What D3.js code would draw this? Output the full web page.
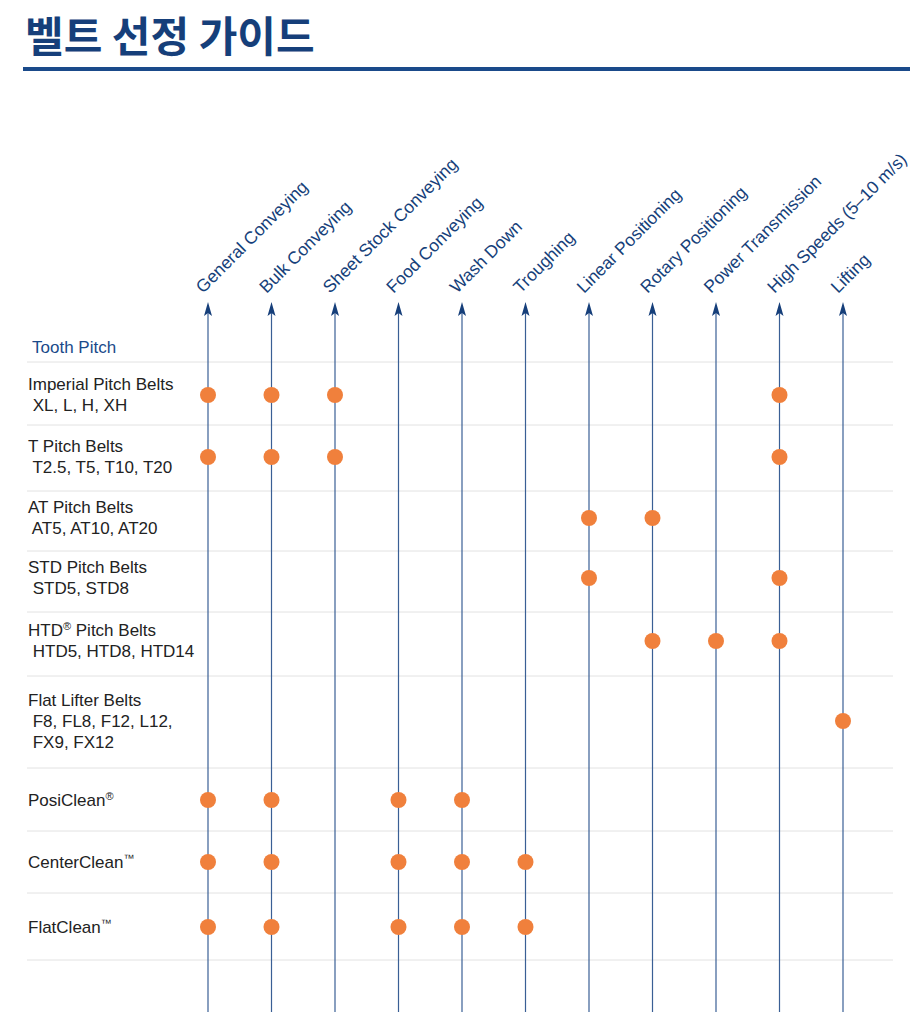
<!DOCTYPE html><html><head><meta charset="utf-8"><script src="https://cdn.jsdelivr.net/npm/d3@7"></script>
<style>body{margin:0;background:#fff}</style></head><body><svg id="c" width="919" height="1024"></svg><script>
const applications=["General Conveying","Bulk Conveying","Sheet Stock Conveying","Food Conveying","Wash Down","Troughing","Linear Positioning","Rotary Positioning","Power Transmission","High Speeds (5–10 m/s)","Lifting"];
const belts=[[["Imperial Pitch Belts",""]," XL, L, H, XH"],[["T Pitch Belts",""]," T2.5, T5, T10, T20"],[["AT Pitch Belts",""]," AT5, AT10, AT20"],[["STD Pitch Belts",""]," STD5, STD8"],[["HTD","®"," Pitch Belts"]," HTD5, HTD8, HTD14"],[["Flat Lifter Belts",""]," F8, FL8, F12, L12,"," FX9, FX12"],[["PosiClean","®"]],[["CenterClean","™"]],[["FlatClean","™"]]];
const marks=[[0,1,2,9],[0,1,2,9],[6,7],[6,9],[7,8,9],[10],[0,1,3,4],[0,1,3,4,5],[0,1,3,4,5]];
const rowDots=[395,457,518,578,641,721,800,862,927];
const rowSep=[362,425,491,551,612,676,768,831,893,960];
const svg=d3.select("#c");
const blue="#163f7a";
const F="Liberation Sans, Arial";
svg.append("text").attr("x",25).attr("y",52).attr("font-family","Noto Sans CJK KR").attr("font-weight",700).attr("font-size",42).attr("fill",blue).text("벨트 선정 가이드");
svg.append("rect").attr("x",23).attr("y",67).attr("width",887).attr("height",4).attr("fill","#1a4a8a");
const x=d3.scalePoint().domain(applications).range([208,843]);
svg.selectAll(".sep").data(rowSep).join("line").attr("x1",27).attr("x2",893).attr("y1",d=>d).attr("y2",d=>d).attr("stroke","#e2e2e2");
svg.selectAll(".ax").data(applications).join("line").attr("x1",d=>x(d)).attr("x2",d=>x(d)).attr("y1",1012).attr("y2",310).attr("stroke","#3a5f95").attr("stroke-width",1.2);
svg.selectAll(".ah").data(applications).join("path").attr("transform",d=>`translate(${x(d)},302)`).attr("d","M0,0L4,14L0,11L-4,14Z").attr("fill",blue);
svg.selectAll(".al").data(applications).join("text").attr("transform",d=>`translate(${x(d)-5},294) rotate(-45)`).attr("font-family",F).attr("font-size",17.5).attr("fill",blue).text(d=>d);
svg.append("text").attr("x",32).attr("y",353).attr("font-family",F).attr("font-size",17).attr("fill","#1a4a8a").text("Tooth Pitch");
belts.forEach((b,i)=>{
  const n=b.length;
  b.forEach((s,j)=>{
    const y=rowDots[i]+5.5-(n-1)*10.5+j*21;
    const t=svg.append("text").attr("x",28).attr("y",y).attr("font-family",F).attr("font-size",17).attr("fill","#222").attr("xml:space","preserve");
    if(Array.isArray(s)){s.forEach((p,k)=>{const ts=t.append("tspan").text(p);if(k==1){ts.attr("font-size",11).attr("dy",-6);}if(k==2)ts.attr("dy",6);});}
    else t.text(s);
  });
  svg.selectAll(null).data(marks[i]).join("circle").attr("cx",d=>x(applications[d])).attr("cy",rowDots[i]).attr("r",8).attr("fill","#f0803c");
});
</script></body></html>
